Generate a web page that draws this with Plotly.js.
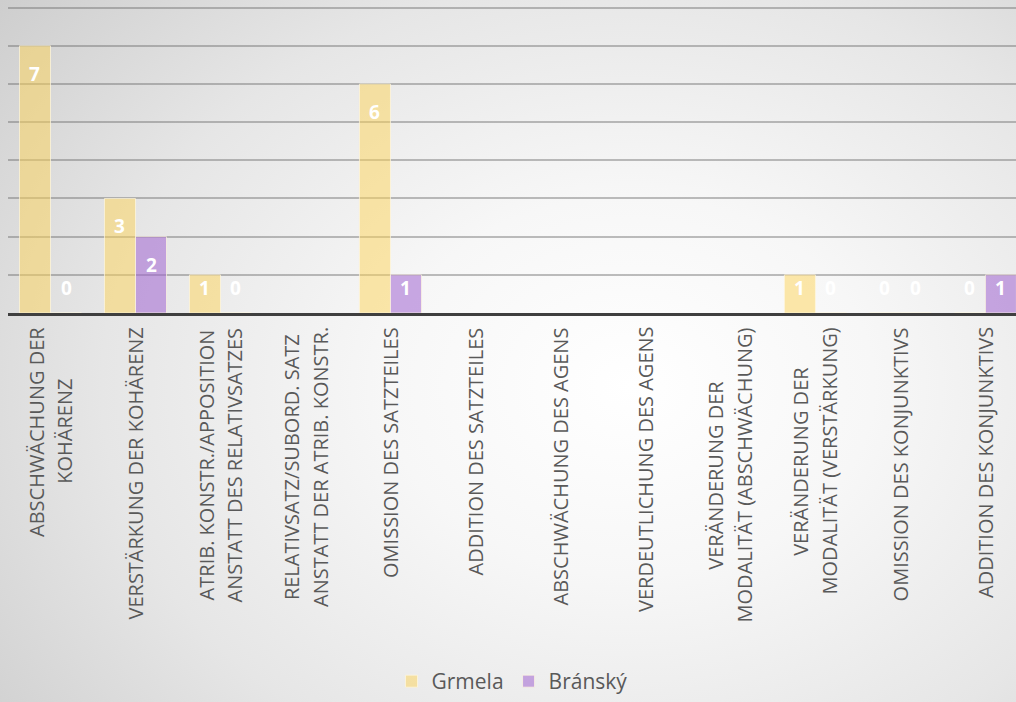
<!DOCTYPE html>
<html><head><meta charset="utf-8">
<script src="https://cdn.plot.ly/plotly-3.0.1.min.js"></script>
<style>
html,body{margin:0;padding:0;width:1016px;height:702px;overflow:hidden;}
body{background: radial-gradient(ellipse 80% 90% at 62% 55%, #ffffff 0%, #f7f7f7 30%, #e6e6e6 65%, #cdcdcd 100%);}
#chart{width:1016px;height:702px;}
</style></head><body><div id="chart"></div>
<script>
const categories = [
  "ABSCHWÄCHUNG DER<br>KOHÄRENZ",
  "VERSTÄRKUNG DER KOHÄRENZ",
  "ATRIB. KONSTR./APPOSITION<br>ANSTATT DES RELATIVSATZES",
  "RELATIVSATZ/SUBORD. SATZ<br>ANSTATT DER ATRIB. KONSTR.",
  "OMISSION DES SATZTEILES",
  "ADDITION DES SATZTEILES",
  "ABSCHWÄCHUNG DES AGENS",
  "VERDEUTLICHUNG DES AGENS",
  "VERÄNDERUNG DER<br>MODALITÄT (ABSCHWÄCHUNG)",
  "VERÄNDERUNG DER<br>MODALITÄT (VERSTÄRKUNG)",
  "OMISSION DES KONJUNKTIVS",
  "ADDITION DES KONJUNKTIVS"
];
const seriesNames = ["Grmela", "Bránský"];
const grmela  = [7, 3, 1, null, 6, null, null, null, null, 1, 0, 0];
const bransky = [0, 2, 0, null, 1, null, null, null, null, 0, 0, 1];

const BARGAP = 0.27;
const xKeys = categories.map(c => c.replace('<br>', ' '));
const seriesValues = [grmela, bransky];
const seriesColors = ['rgba(253,212,88,0.5)', 'rgba(160,100,210,0.55)'];

const traces = seriesValues.map((vals, s) => ({
  type: 'bar', name: seriesNames[s], x: xKeys, y: vals,
  marker: {color: seriesColors[s], line: {color: 'rgba(255,248,225,0.7)', width: 1}},
  hoverinfo: 'x+y+name'
}));

const annotations = [];
// data labels
seriesValues.forEach((vals, s) => {
  const off = (s === 0 ? -1 : 1) * (1 - BARGAP) / 4;
  vals.forEach((v, i) => {
    if (v === null) return;
    const tall = v >= 2;
    annotations.push({
      xref: 'x', yref: 'y', x: i + off, y: tall ? v : 0,
      yanchor: 'middle', xanchor: 'center',
      yshift: tall ? -28 : 25,
      text: String(v), showarrow: false,
      font: {family: 'Open Sans', size: 19, color: '#ffffff', weight: 'bold'}
    });
  });
});
// category labels (rotated, lines centred)
const LABEL_FONT = 20, LINE_GAP = 29, LABEL_TOP = 12;
const ctx = document.createElement('canvas').getContext('2d');
ctx.font = LABEL_FONT + "px 'Open Sans'";
categories.forEach((c, i) => {
  const lines = c.split('<br>');
  const widths = lines.map(l => ctx.measureText(l).width);
  const maxW = Math.max(...widths);
  lines.forEach((l, j) => {
    annotations.push({
      xref: 'x', yref: 'paper', x: i, y: 0,
      xshift: (j - (lines.length - 1) / 2) * LINE_GAP,
      yshift: -(LABEL_TOP + (maxW - widths[j]) / 2),
      xanchor: 'center', yanchor: 'top', textangle: -90,
      text: l, showarrow: false,
      font: {family: 'Open Sans', size: LABEL_FONT, color: '#595959'}
    });
  });
});

const layout = {
  width: 1016, height: 702,
  margin: {l: 8, r: 0, t: 0, b: 383, pad: 0},
  paper_bgcolor: 'rgba(0,0,0,0)', plot_bgcolor: 'rgba(0,0,0,0)',
  barmode: 'group', bargap: BARGAP, bargroupgap: 0,
  font: {family: 'Open Sans', color: '#595959'},
  xaxis: {type: 'category', range: [-0.5, 11.36], showticklabels: false, ticks: '',
          showgrid: false, showline: true, linecolor: '#3f3f3f', linewidth: 3, zeroline: false,
          fixedrange: true},
  yaxis: {range: [0, 8.2], dtick: 1, showticklabels: false, ticks: '',
          showgrid: true, gridcolor: 'rgba(110,110,110,0.45)', gridwidth: 2,
          zeroline: false, showline: false, fixedrange: true},
  showlegend: true,
  legend: {orientation: 'h', x: 0.5, xanchor: 'center', y: -1.18, yanchor: 'middle',
           font: {family: 'Open Sans', size: 21, color: '#595959'}, bgcolor: 'rgba(0,0,0,0)',
           itemwidth: 30},
  annotations: annotations
};
Plotly.newPlot('chart', traces, layout, {displayModeBar: false, staticPlot: true});
</script></body></html>
